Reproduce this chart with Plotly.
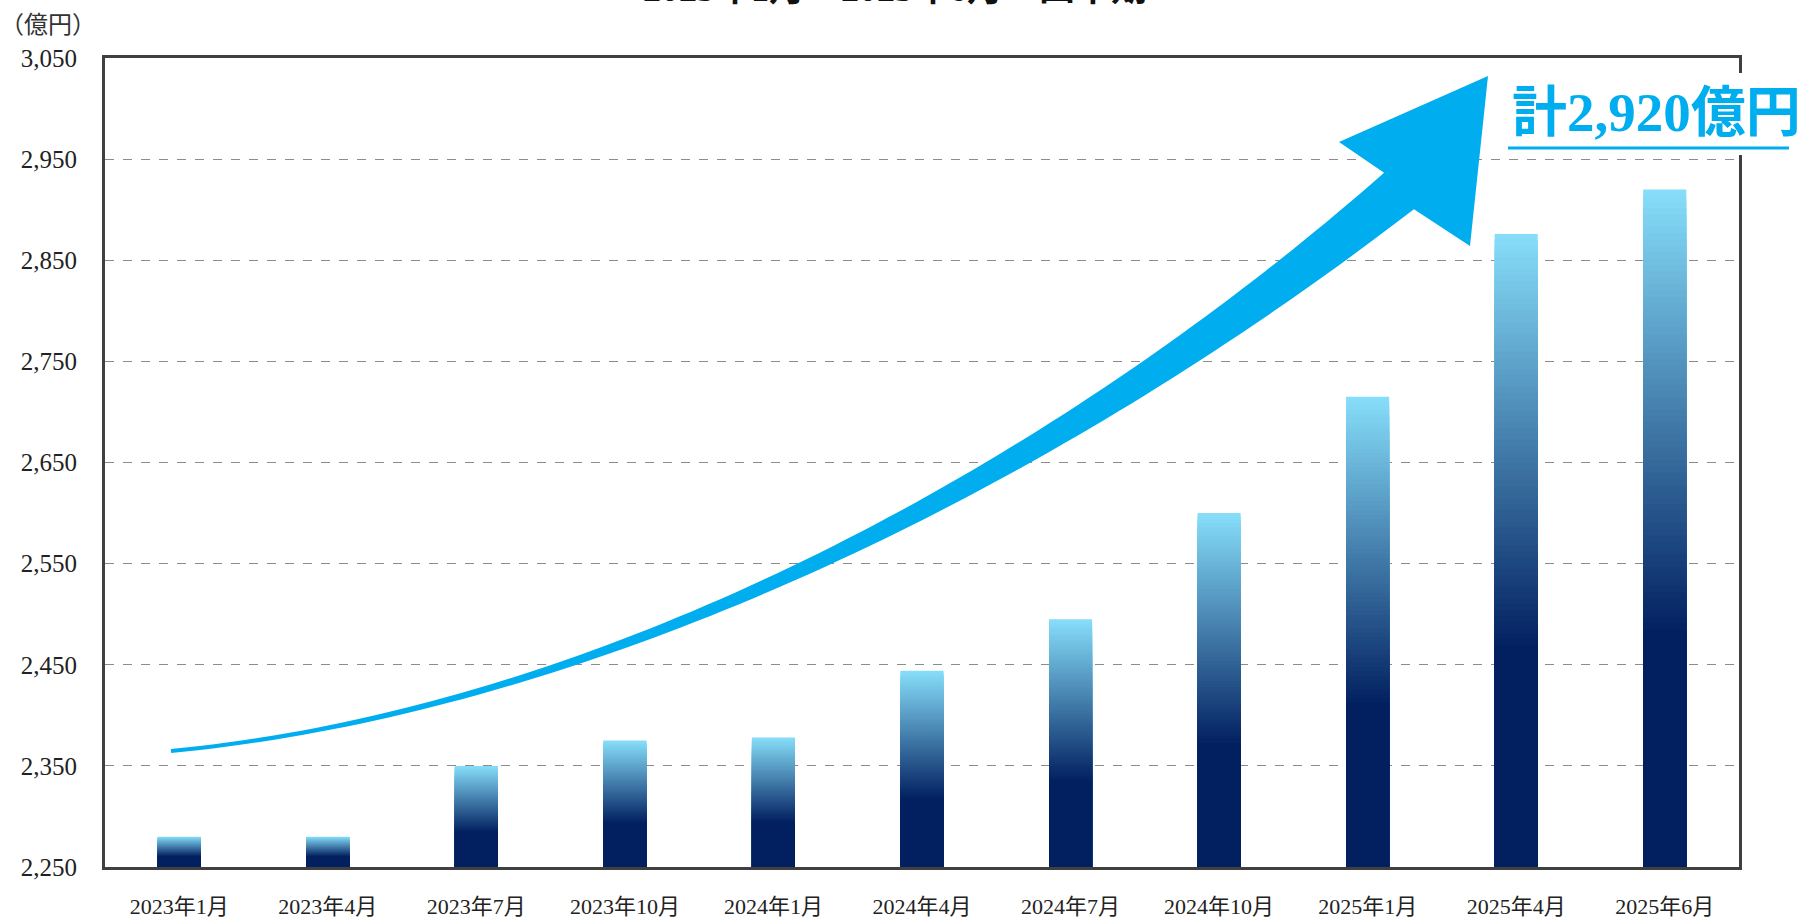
import numpy as np
import plotly.graph_objects as go

categories = ["2023年1月", "2023年4月", "2023年7月", "2023年10月", "2024年1月", "2024年4月",
              "2024年7月", "2024年10月", "2025年1月", "2025年4月", "2025年6月"]
values = [2280, 2280, 2350, 2375, 2378, 2444, 2495, 2600, 2715, 2876, 2920]
y_ticks = list(range(2250, 3051, 100))
title_text = "2023年1月～2025年6月：四半期"
unit_label = "（億円）"
total_label = "計2,920億円"

W, H = 1811, 920
L, R, T, B = 105, 72, 58, 53
Y0, Y1 = 2250, 3050
FONT = "Liberation Serif, 'Noto Sans CJK JP', serif"
CYAN = "#00AEEF"


def to_paper(px, py):
    # pixel position on the page -> paper coordinates
    return (px - L) / (W - L - R), (H - B - py) / (H - T - B)


fig = go.Figure()

# gradient bars: light cyan at the top fading to navy, drawn as nested overlaid bars
light = np.array([134, 221, 249])
navy = np.array([2, 32, 96])
grad_share = 0.65
steps = 70
vals = np.array(values, dtype=float)
for k in range(steps + 1):
    frac = k / steps
    c = light + (navy - light) * frac
    tops = vals - (vals - Y0) * grad_share * frac
    fig.add_trace(go.Bar(
        x=categories,
        y=tops - Y0,
        base=Y0,
        marker_color="rgb(%d,%d,%d)" % tuple(c.round().astype(int)),
        marker_line_width=0,
        hoverinfo="skip" if k else None,
        hovertemplate="%{x}: %{customdata:,}億円<extra></extra>" if k == 0 else None,
        customdata=values,
        showlegend=False,
    ))

# curved tapering arrow (decoration), built in page pixels
P0, P1, P2, P3 = map(np.array, [(171, 751), (600, 710), (1050, 478), (1399, 191)])
t = np.linspace(0, 1, 90)[:, None]
curve = (1 - t) ** 3 * P0 + 3 * (1 - t) ** 2 * t * P1 + 3 * (1 - t) * t ** 2 * P2 + t ** 3 * P3
deriv = 3 * (1 - t) ** 2 * (P1 - P0) + 6 * (1 - t) * t * (P2 - P1) + 3 * t ** 2 * (P3 - P2)
norm = np.stack([deriv[:, 1], -deriv[:, 0]], axis=1)
norm /= np.linalg.norm(norm, axis=1, keepdims=True)
width = 4 + 43 * t ** 2.0
upper = curve + norm * width / 2
lower = curve - norm * width / 2
head = [(1339, 142), (1488, 76), (1470, 246)]
pts = list(map(tuple, upper)) + head + list(map(tuple, lower[::-1]))
path = "M " + " L ".join("%.5f,%.5f" % to_paper(x, y) for x, y in pts) + " Z"

shapes = [dict(type="path", path=path, xref="paper", yref="paper",
               fillcolor=CYAN, line=dict(width=0), layer="above")]

# white patch behind the total label (hides the frame there) and its underline
x0, y0 = to_paper(1505, 155)
x1, y1 = to_paper(1811, 73)
shapes.append(dict(type="rect", xref="paper", yref="paper", x0=x0, y0=y0, x1=x1, y1=y1,
                   fillcolor="white", line=dict(width=0), layer="above"))
ux0, uy = to_paper(1508, 148)
ux1, _ = to_paper(1789, 148)
shapes.append(dict(type="line", xref="paper", yref="paper", x0=ux0, y0=uy, x1=ux1, y1=uy,
                   line=dict(color=CYAN, width=3), layer="above"))

tx, ty = to_paper(1656, 113)
hx, hy = to_paper(895, 11)
ux, uyl = to_paper(-2, 25)
annotations = [
    dict(text="<b>" + total_label + "</b>", x=tx, y=ty, xref="paper", yref="paper",
         xanchor="center", yanchor="middle", showarrow=False,
         font=dict(family=FONT, size=55, color=CYAN)),
    dict(text="<b>" + title_text + "</b>", x=hx, y=hy, xref="paper", yref="paper",
         xanchor="center", yanchor="bottom", showarrow=False,
         font=dict(family=FONT, size=36, color="#111")),
    dict(text=unit_label, x=ux, y=uyl, xref="paper", yref="paper",
         xanchor="left", yanchor="middle", showarrow=False,
         font=dict(family=FONT, size=24, color="#333")),
]

fig.update_layout(
    width=W, height=H,
    margin=dict(l=L, r=R, t=T, b=B, autoexpand=False),
    paper_bgcolor="white", plot_bgcolor="white",
    barmode="overlay", bargap=0.71,
    font=dict(family=FONT, color="#222"),
    shapes=shapes, annotations=annotations,
    xaxis=dict(
        showgrid=False, showline=True, mirror=True, linecolor="#404040", linewidth=3,
        ticks="outside", ticklen=18, tickcolor="rgba(0,0,0,0)",
        tickfont=dict(size=22, color="#222"), automargin=False,
    ),
    yaxis=dict(
        range=[Y0, Y1], tickvals=y_ticks, tickformat=",",
        showgrid=True, gridcolor="#8c8c8c", griddash="dash", gridwidth=1,
        showline=True, mirror=True, linecolor="#404040", linewidth=3,
        ticks="outside", ticklen=20, tickcolor="rgba(0,0,0,0)",
        tickfont=dict(size=25, color="#222"), zeroline=False, automargin=False,
    ),
)

fig.write_html("out.html", config={"displayModeBar": False},
               post_script="document.body.style.margin='0';")
